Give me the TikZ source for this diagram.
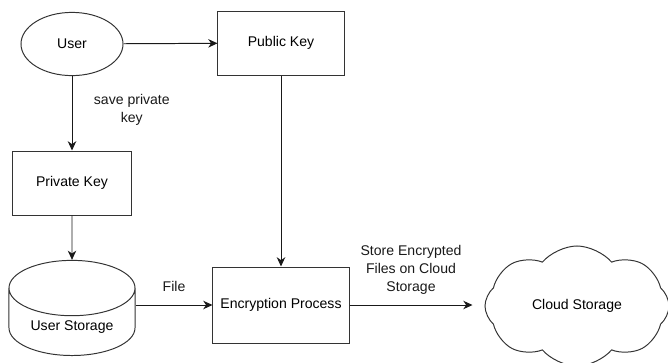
\documentclass[tikz,border=0pt]{standalone}
\usepackage{fontspec}
\setmainfont{Liberation Sans}
\usetikzlibrary{arrows.meta,positioning,shapes.geometric,shapes.symbols}

\begin{document}
\begin{tikzpicture}[x=0.025cm, y=-0.025cm,
  box/.style={draw=black!80, line width=0.7pt, align=center, minimum width=3.15cm, minimum height=1.6cm, inner sep=2pt, fill=white},
  ubox/.style={draw=black!80, line width=0.7pt, ellipse, minimum width=2.55cm, minimum height=1.58cm},
  dbox/.style={draw=black!80, line width=0.7pt, cylinder, shape border rotate=90, aspect=0.6, minimum width=3.15cm, minimum height=1.93cm},
  cbox/.style={draw=black!80, line width=0.7pt, cloud, cloud puffs=8, cloud puff arc=100, aspect=1.6, minimum width=4.6cm, minimum height=3.0cm},
  arr/.style={-{Stealth[length=2.3mm, width=2.1mm, inset=0.7mm]}, line width=0.7pt, black!90},
  lab/.style={align=center, inner sep=1pt, font={\fontsize{10}{13}\selectfont}}
]
\useasboundingbox (0,0) rectangle (668,362);
\node[ubox] (user)    at (72,44)   {User};
\node[box]  (pubkey)  at (281,43)  {Public Key};
\node[box, minimum width=2.95cm] (privkey) at (72,183) {Private Key};
\node[dbox, anchor=south] (ustore) at (72,356) {User Storage};
\node[box, minimum width=3.4cm, minimum height=1.9cm] (encrypt) at (281,305) {Encryption Process};
\node[cbox] (cloud)   at (577,306) {Cloud Storage};
\draw[arr] (user) -- (pubkey);
\draw[arr] (user) -- node[lab, right=5mm, pos=0.45]{save private\\key} (privkey);
\draw[arr] (privkey) -- (ustore);
\draw[arr] (pubkey) -- (encrypt);
\draw[arr] (ustore.east |- encrypt) -- node[lab, above=8pt]{File} (encrypt);
\draw[arr] (encrypt.east) -- node[lab, above=6pt]{Store Encrypted\\Files on Cloud\\Storage} ++(123,0) coordinate (cloudin);
\end{tikzpicture}
\end{document}
